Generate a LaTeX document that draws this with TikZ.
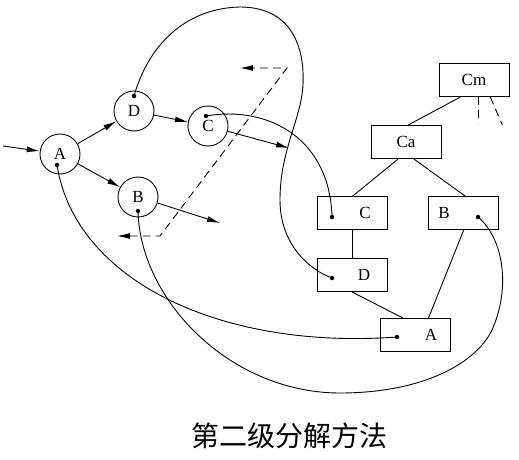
\documentclass[tikz,border=0pt]{standalone}
\usepackage{fontspec}
\setmainfont{Liberation Serif}
\newfontfamily\cjk{Noto Sans CJK SC}
\usetikzlibrary{arrows.meta,calc}
\begin{document}
\begin{tikzpicture}[x=1pt,y=-1pt,
  every path/.style={line width=0.9pt},
  circ/.style={draw,circle,minimum size=40pt,inner sep=0pt,font=\fontsize{17}{17}\selectfont},
  box/.style={draw,rectangle,minimum width=70pt,minimum height=33pt,inner sep=0pt,font=\fontsize{17}{17}\selectfont},
  lbl/.style={font=\fontsize{17}{17}\selectfont,inner sep=0pt},
  arr/.style={-{Latex[length=13pt,width=6pt]}},
  dashline/.style={dash pattern=on 8pt off 5pt},
  dotmark/.style={fill,circle,inner sep=0pt,minimum size=4.5pt}]
\useasboundingbox (0,0) rectangle (519,460);
% circles
\node[circ] (cA) at (60,154) {A};
\node[circ] (cD) at (134,111) {D};
\node[circ] (cC) at (208,126) {C};
\node[circ] (cB) at (138,197) {B};
% boxes
\node[box] (bCm) at (474,80) {Cm};
\node[box] (bCa) at (406,142) {Ca};
\node[box] (bC) at (352,213) {};
\node[box] (bB) at (463,213) {};
\node[box] (bD) at (352,275) {};
\node[box] (bA) at (415,335) {};
\node[lbl] (tC) at (365,213) {C};
\node[lbl] (tB) at (444,213) {B};
\node[lbl] (tD) at (364,275) {D};
\node[lbl] (tA) at (431,335) {A};
% dots
\node[dotmark] (dA) at (57,165) {};
\node[dotmark] (dD) at (134,96) {};
\node[dotmark] (dC) at (206,116) {};
\node[dotmark] (dB) at (138,211) {};
\node[dotmark] (eC) at (332,217) {};
\node[dotmark] (eB) at (478,217) {};
\node[dotmark] (eD) at (332,278) {};
\node[dotmark] (eA) at (397,337) {};
% free ends
\coordinate (inA) at (3,146);
\coordinate (outC) at (289,148);
\coordinate (outB) at (220,223);
\coordinate (q1) at (117,236);
\coordinate (q2) at (160,236);
\coordinate (q3) at (287,68);
\coordinate (q4) at (240,68);
% arrows between circles
\draw[arr] (inA) -- (cA);
\draw[arr] (cA) -- (cD);
\draw[arr] (cD) -- (cC);
\draw[arr] (cA) -- (cB);
\draw[arr] (cC.-15) -- (outC);
\draw[arr] (cB.-17.6) -- (outB);
% dashed
\draw[dashline,{Latex[length=13pt,width=6pt]}-{Latex[length=13pt,width=6pt]}] (q1) -- (q2) -- (q3) -- (q4);
% tree lines
\draw ($(bCm.south west)!0.31!(bCm.south east)$) -- ($(bCa.north west)!0.53!(bCa.north east)$);
\draw[dashline] ($(bCm.south west)!0.56!(bCm.south east)$) -- ++(0,26);
\draw[dashline] ($(bCm.south west)!0.73!(bCm.south east)$) -- ++(12,28);
\draw ($(bCa.south west)!0.39!(bCa.south east)$) -- ($(bC.north west)!0.51!(bC.north east)$);
\draw ($(bCa.south west)!0.61!(bCa.south east)$) -- ($(bB.north west)!0.53!(bB.north east)$);
\draw (bC.south) -- (bD.north);
\draw (bD.south) -- ($(bA.north west)!0.33!(bA.north east)$);
\draw ($(bB.south west)!0.51!(bB.south east)$) -- ($(bA.north west)!0.69!(bA.north east)$);
% curves
\draw (dD.center) .. controls (150,40) and (190,8) .. (240,7)
  .. controls (290,7) and (305,45) .. (303,85)
  .. controls (301,120) and (280,150) .. (280,200)
  .. controls (280,245) and (310,270) .. (eD.center);
\draw (dC.center) .. controls (270,105) and (330,140) .. (eC.center);
\draw (dA.center) .. controls (75,280) and (220,350) .. (eA.center);
\draw (dB.center) .. controls (140,300) and (230,393) .. (340,393)
  .. controls (420,393) and (475,365) .. (492,330)
  .. controls (510,290) and (505,240) .. (eB.center);
% caption
\node[font=\cjk\fontsize{28}{28}\selectfont,inner sep=0pt] (cap) at (289,436) {第二级分解方法};
\end{tikzpicture}
\end{document}
